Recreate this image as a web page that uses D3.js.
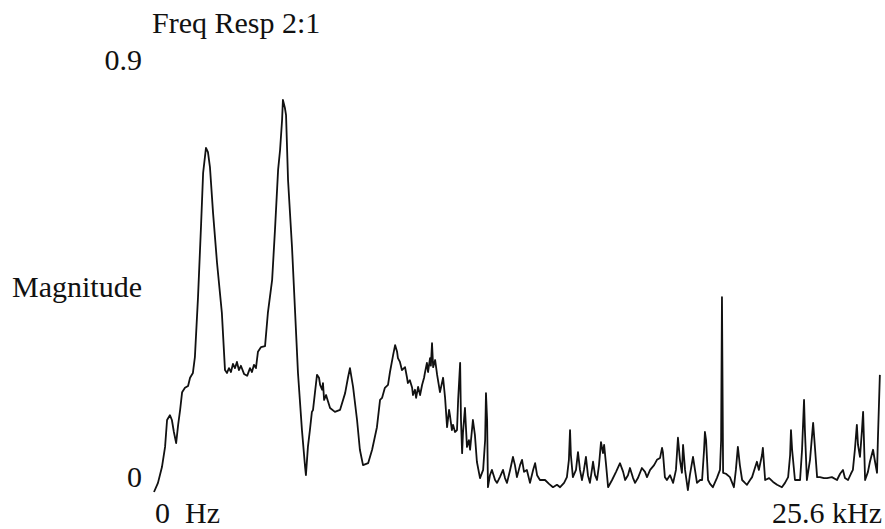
<!DOCTYPE html>
<html>
<head>
<meta charset="utf-8">
<script src="https://cdn.jsdelivr.net/npm/d3@7"></script>
<style>
  html, body { margin: 0; padding: 0; background: #fff; }
  svg { display: block; }
  text { font-family: "Liberation Serif", "DejaVu Serif", serif; font-size: 30px; fill: #111; white-space: pre; }
</style>
</head>
<body>
<svg id="chart" width="885" height="529"></svg>
<script>
const title = "Freq Resp 2:1";
const yAxisLabel = "Magnitude";
const yTickValues = [0, 0.9];
const yTickLabels = ["0", "0.9"];
const xTickValues = [0, 25.6];
const xTickLabels = ["0  Hz", "25.6 kHz"];

const freqKHz = [
  0.00,0.14,0.28,0.39,0.46,0.56,0.63,0.70,0.78,0.85,0.92,0.99,1.09,1.20,1.27,1.37,1.44,1.55,1.66,1.73,
  1.83,1.90,1.97,2.08,2.22,2.39,2.50,2.57,2.64,2.71,2.78,2.85,2.92,2.99,3.06,3.17,3.28,3.38,3.45,3.52,
  3.59,3.66,3.77,3.91,4.01,4.16,4.26,4.37,4.44,4.51,4.54,4.61,4.65,4.72,4.86,4.97,5.07,5.21,5.32,5.35,
  5.42,5.49,5.56,5.60,5.67,5.74,5.81,5.85,5.92,5.95,5.99,6.06,6.09,6.20,6.37,6.55,6.73,6.83,6.90,7.01,
  7.15,7.25,7.36,7.54,7.68,7.85,7.96,8.03,8.13,8.24,8.31,8.42,8.49,8.56,8.59,8.66,8.73,8.84,8.91,8.94,
  9.01,9.09,9.12,9.19,9.23,9.30,9.37,9.44,9.51,9.54,9.61,9.65,9.72,9.75,9.79,9.83,9.90,9.97,10.07,10.18,
  10.25,10.32,10.39,10.42,10.49,10.53,10.60,10.67,10.71,10.78,10.81,10.85,10.88,10.95,11.02,11.09,11.13,11.23,11.30,11.37,
  11.48,11.59,11.66,11.69,11.73,11.76,11.83,11.90,12.01,12.08,12.18,12.29,12.36,12.43,12.54,12.64,12.71,12.78,12.89,12.96,
  13.03,13.13,13.24,13.35,13.42,13.49,13.59,13.77,13.91,14.05,14.19,14.30,14.44,14.54,14.61,14.65,14.68,14.75,14.86,14.93,
  15.00,15.07,15.14,15.21,15.28,15.35,15.42,15.46,15.53,15.60,15.67,15.74,15.81,15.85,15.92,15.99,16.13,16.27,16.41,16.52,
  16.59,16.69,16.76,16.87,16.94,17.04,17.18,17.29,17.36,17.47,17.61,17.71,17.82,17.89,17.92,17.99,18.06,18.17,18.28,18.38,
  18.45,18.52,18.59,18.63,18.70,18.80,18.87,18.98,19.05,19.12,19.23,19.30,19.37,19.40,19.44,19.51,19.58,19.68,19.82,19.93,
  19.97,20.00,20.04,20.14,20.28,20.42,20.49,20.56,20.63,20.71,20.81,20.88,20.99,21.06,21.16,21.23,21.30,21.41,21.44,21.52,
  21.66,21.80,21.94,22.11,22.22,22.33,22.40,22.43,22.47,22.57,22.75,22.82,22.89,22.92,22.99,23.10,23.21,23.28,23.35,23.45,
  23.59,23.70,23.87,24.05,24.16,24.26,24.33,24.44,24.54,24.61,24.68,24.75,24.79,24.86,24.93,24.97,25.00,25.04,25.14,25.21,
  25.32,25.39,25.46,25.49,25.56
];

const magnitude = [
  0.000,0.019,0.052,0.094,0.150,0.160,0.150,0.125,0.102,0.140,0.171,0.208,0.217,0.221,0.238,0.248,0.281,0.406,0.560,0.665,
  0.717,0.708,0.677,0.581,0.477,0.373,0.254,0.248,0.258,0.250,0.267,0.258,0.271,0.254,0.263,0.246,0.242,0.258,0.250,0.265,
  0.258,0.292,0.302,0.304,0.373,0.442,0.546,0.671,0.713,0.775,0.817,0.800,0.785,0.650,0.510,0.373,0.248,0.129,0.052,0.035,
  0.094,0.129,0.167,0.171,0.208,0.244,0.238,0.223,0.213,0.227,0.192,0.202,0.196,0.175,0.167,0.171,0.206,0.238,0.258,0.219,
  0.150,0.088,0.056,0.060,0.088,0.135,0.192,0.196,0.217,0.223,0.250,0.285,0.306,0.292,0.279,0.271,0.254,0.260,0.238,0.227,
  0.233,0.217,0.202,0.213,0.196,0.219,0.202,0.223,0.238,0.248,0.269,0.250,0.279,0.263,0.310,0.260,0.275,0.244,0.208,0.238,
  0.196,0.135,0.171,0.160,0.129,0.140,0.125,0.129,0.192,0.269,0.150,0.081,0.123,0.175,0.094,0.108,0.088,0.150,0.119,0.063,
  0.029,0.046,0.108,0.206,0.150,0.010,0.035,0.046,0.025,0.019,0.031,0.046,0.029,0.019,0.046,0.073,0.056,0.031,0.056,0.067,
  0.042,0.046,0.019,0.046,0.060,0.035,0.025,0.025,0.017,0.010,0.015,0.010,0.019,0.031,0.067,0.129,0.077,0.031,0.046,0.083,
  0.046,0.025,0.046,0.073,0.035,0.019,0.046,0.063,0.035,0.025,0.056,0.104,0.081,0.098,0.056,0.010,0.025,0.042,0.060,0.042,
  0.025,0.035,0.050,0.029,0.019,0.029,0.050,0.042,0.031,0.046,0.056,0.067,0.071,0.092,0.083,0.031,0.025,0.035,0.019,0.046,
  0.113,0.067,0.040,0.098,0.046,0.004,0.035,0.073,0.046,0.019,0.025,0.025,0.088,0.125,0.108,0.025,0.017,0.010,0.029,0.046,
  0.108,0.406,0.040,0.038,0.031,0.010,0.046,0.094,0.056,0.025,0.019,0.015,0.025,0.031,0.050,0.063,0.046,0.077,0.092,0.025,
  0.029,0.021,0.015,0.010,0.019,0.031,0.077,0.129,0.088,0.025,0.025,0.088,0.192,0.129,0.025,0.067,0.144,0.088,0.031,0.031,
  0.029,0.029,0.031,0.025,0.038,0.046,0.029,0.025,0.038,0.046,0.088,0.140,0.098,0.073,0.129,0.167,0.108,0.025,0.042,0.063,
  0.088,0.063,0.040,0.108,0.244
];

const svg = d3.select("#chart");

const x = d3.scaleLinear().domain([0, 25.6]).range([154, 881]);
const y = d3.scaleLinear().domain([0, 0.9]).range([492, 60]);

const data = freqKHz.map((f, i) => ({ f, m: magnitude[i] }));

const line = d3.line()
  .x(d => x(d.f))
  .y(d => y(d.m));

svg.append("path")
  .datum(data)
  .attr("fill", "none")
  .attr("stroke", "#111")
  .attr("stroke-width", 1.8)
  .attr("stroke-linejoin", "round")
  .attr("d", line);

// title
svg.append("text")
  .attr("x", 152)
  .attr("y", 33)
  .text(title);

// y label
svg.append("text")
  .attr("x", 12)
  .attr("y", 297)
  .text(yAxisLabel);

// y tick labels
svg.selectAll("text.ytick")
  .data(yTickValues)
  .enter().append("text")
  .attr("class", "ytick")
  .attr("x", 142)
  .attr("text-anchor", "end")
  .attr("y", (d, i) => i === 0 ? y(d) - 5 : y(d) + 10)
  .text((d, i) => yTickLabels[i]);

// x tick labels
svg.selectAll("text.xtick")
  .data(xTickValues)
  .enter().append("text")
  .attr("class", "xtick")
  .attr("x", d => x(d) + 1)
  .attr("y", 523)
  .attr("text-anchor", (d, i) => i === 0 ? "start" : "end")
  .text((d, i) => xTickLabels[i]);
</script>
</body>
</html>
